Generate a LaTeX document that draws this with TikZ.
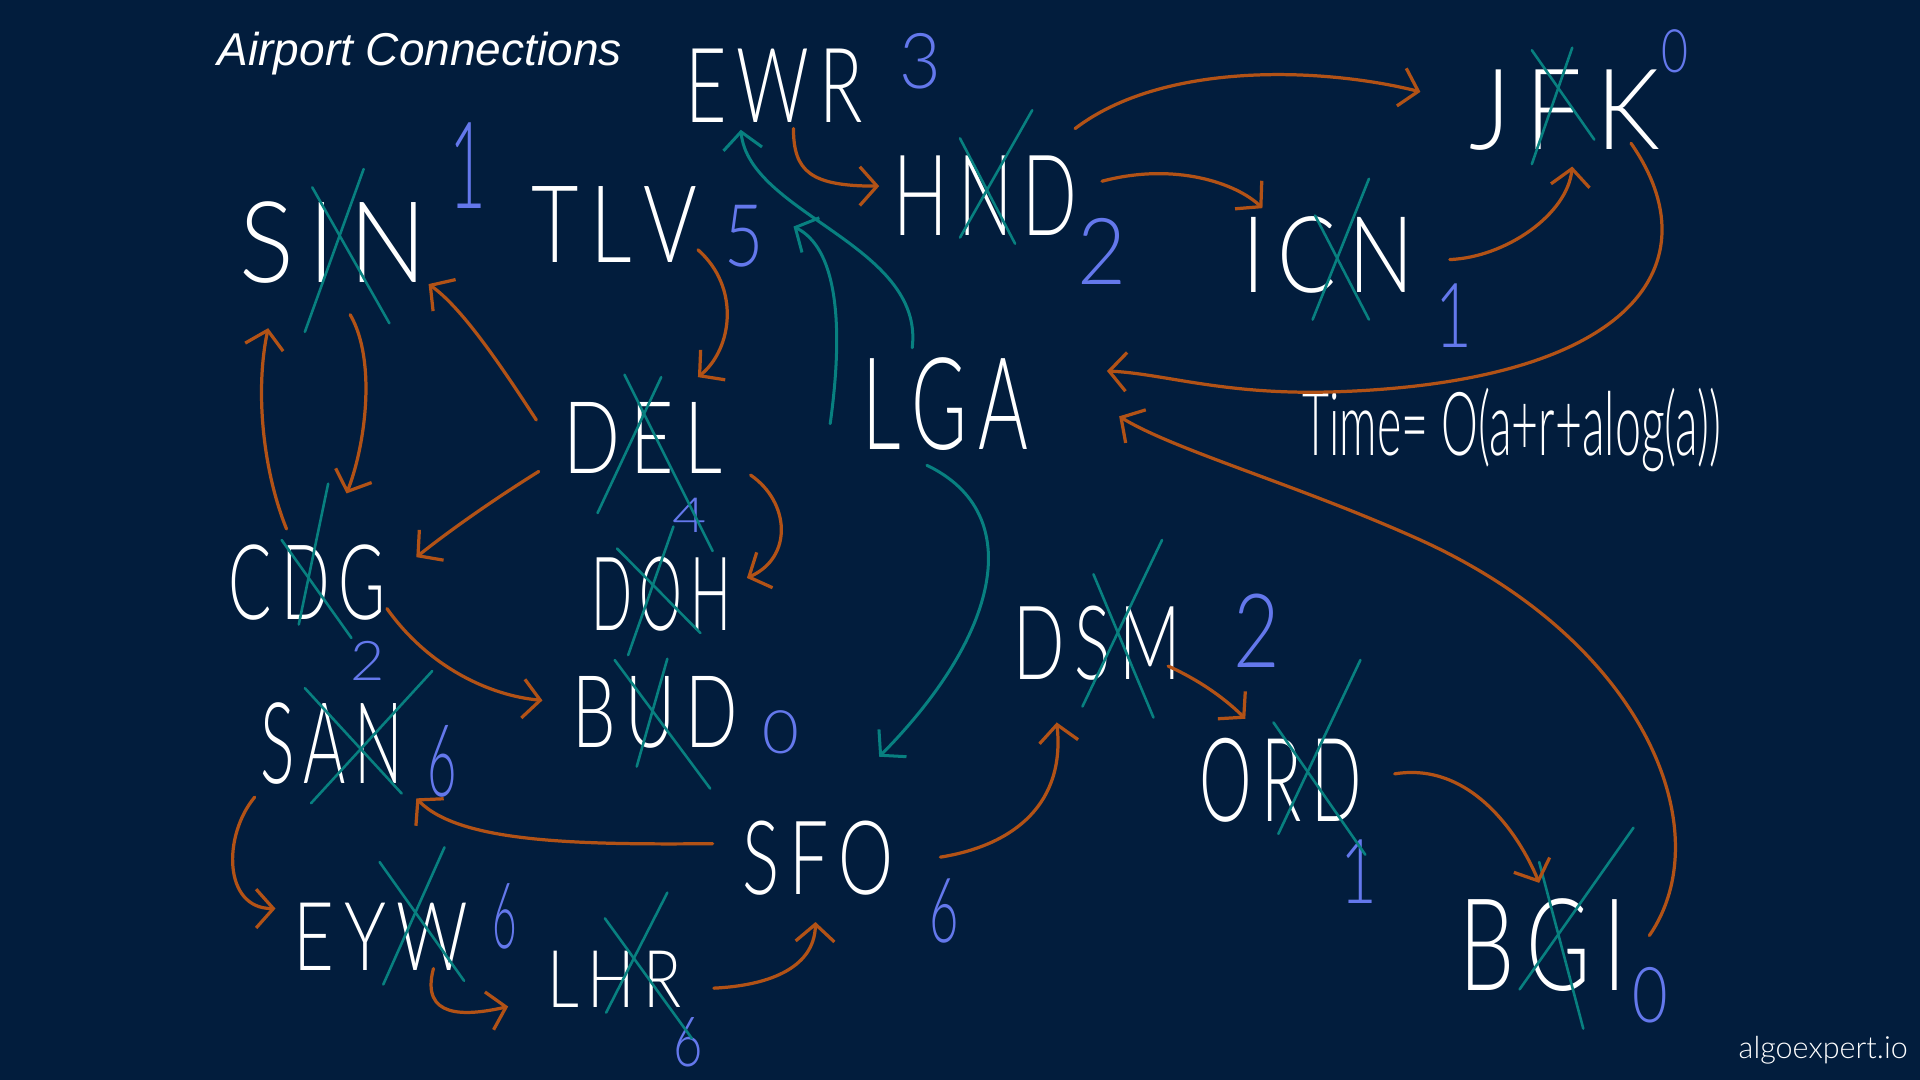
\documentclass[tikz,border=0pt]{standalone}
\usepackage{fontspec}
\usepackage{graphicx}
\usetikzlibrary{arrows.meta,calc}
\IfFontExistsTF{Lato Light}{\newfontfamily\hand{Lato Light}}{%
 \IfFontExistsTF{Fira Sans Light}{\newfontfamily\hand{Fira Sans Light}}{%
  \IfFontExistsTF{DejaVu Sans ExtraLight}{\newfontfamily\hand{DejaVu Sans ExtraLight}}{%
   \newfontfamily\hand{Liberation Sans}}}}
\newfontfamily\titlefont{Liberation Sans}
\definecolor{bg}{RGB}{2,29,61}
\definecolor{orng}{RGB}{178,82,22}
\definecolor{tl}{RGB}{8,128,128}
\definecolor{blu}{RGB}{100,120,236}
\newcommand\gp{\hspace{0.14em}}
\newcommand\code[3]{\resizebox{#1cm}{#2cm}{\hand #3}}
\newcommand\dg[3]{\resizebox{#1cm}{#2cm}{\hand #3}}
\newcommand\xcross[9]{%
  \draw[crossln] ($(#1)+(#2,#3)$) -- ($(#1)+(#4,#5)$);
  \draw[crossln] ($(#1)+(#6,#7)$) -- ($(#1)+(#8,#9)$);}
\begin{document}
\begin{tikzpicture}[x=0.01cm,y=-0.01cm,
  apt/.style={inner sep=0pt,text=white},
  num/.style={inner sep=0pt,text=blu},
  oar/.style={draw=orng,line width=0.75pt,line cap=round,-{Straight Barb[length=4pt,width=9pt]}},
  tar/.style={draw=tl,line width=0.7pt,line cap=round,-{Straight Barb[length=4pt,width=9pt]}},
  crossln/.style={draw=tl,line width=0.6pt,line cap=round}]
\fill[bg] (0,0) rectangle (1568,882);
\useasboundingbox (0,0) rectangle (1568,882);

% title and brand
\node[inner sep=0pt,anchor=west,text=white] (title) at (177,44) {\resizebox{3.3cm}{!}{\titlefont\itshape Airport Connections}};
\node[inner sep=0pt,text=white] (brand) at (1489,858) {\resizebox{1.38cm}{!}{\hand algoexpert.io}};
\node[inner sep=0pt,anchor=base west,text=white] (time) at (1063,372) {\resizebox{3.42cm}{0.55cm}{\hand Time= O(a+r+alog(a))}};

% airports
\node[apt] (sin) at (272,198) {\code{1.53}{0.66}{S\gp I\gp N}};
\node[apt] (tlv) at (502,183) {\code{1.35}{0.62}{T\gp L\gp V}};
\node[apt] (ewr) at (632,70) {\code{1.45}{0.6}{E\gp W\gp R}};
\node[apt] (hnd) at (805,160) {\code{1.5}{0.65}{H\gp N\gp D}};
\node[apt] (jfk) at (1278,90) {\code{1.55}{0.65}{J\gp F\gp K}};
\node[apt] (icn) at (1085,208) {\code{1.4}{0.62}{I\gp C\gp N}};
\node[apt] (lga) at (772,330) {\code{1.35}{0.75}{L\gp G\gp A}};
\node[apt] (del) at (525,358) {\code{1.3}{0.58}{D\gp E\gp L}};
\node[apt] (cog) at (251,476) {\code{1.28}{0.61}{C\gp D\gp G}};
\node[apt] (doh) at (540,485) {\code{1.14}{0.6}{D\gp O\gp H}};
\node[apt] (san) at (271,607) {\code{1.17}{0.66}{S\gp A\gp N}};
\node[apt] (bud) at (535,582) {\code{1.35}{0.58}{B\gp U\gp D}};
\node[apt] (sfo) at (668,701) {\code{1.23}{0.6}{S\gp F\gp O}};
\node[apt] (dsm) at (896,525) {\code{1.37}{0.6}{D\gp S\gp M}};
\node[apt] (ord) at (1046,637) {\code{1.32}{0.68}{O\gp R\gp D}};
\node[apt] (bgi) at (1260,772) {\code{1.36}{0.75}{B\gp G\gp I}};
\node[apt] (eyw) at (311,765) {\code{1.42}{0.55}{E\gp Y\gp W}};
\node[apt] (lhr) at (502,800) {\code{1.1}{0.46}{L\gp H\gp R}};

% numbers
\node[num] (nsin) at (382,135) {\dg{0.3}{0.7}{1}};
\node[num] (newr) at (752,50) {\dg{0.34}{0.45}{3}};
\node[num] (ntlv) at (608,193) {\dg{0.32}{0.5}{5}};
\node[num] (nhnd) at (900,205) {\dg{0.4}{0.54}{2}};
\node[num] (njfk) at (1368,42) {\dg{0.22}{0.35}{0}};
\node[num] (nicn) at (1187,258) {\dg{0.3}{0.52}{1}};
\node[num] (ndel) at (563,421) {\dg{0.28}{0.28}{4}};
\node[num] (ncog) at (300,540) {\dg{0.28}{0.32}{2}};
\node[num] (nbud) at (638,598) {\dg{0.3}{0.35}{0}};
\node[num] (nsan) at (361,622) {\dg{0.24}{0.58}{6}};
\node[num] (ndsm) at (1026,515) {\dg{0.38}{0.6}{2}};
\node[num] (nord) at (1110,712) {\dg{0.3}{0.52}{1}};
\node[num] (nsfo) at (771,744) {\dg{0.24}{0.52}{6}};
\node[num] (neyw) at (412,748) {\dg{0.2}{0.53}{6}};
\node[num] (nlhr) at (562,851) {\dg{0.24}{0.4}{6}};
\node[num] (nbgi) at (1348,813) {\dg{0.29}{0.45}{0}};

% cross-outs
\xcross{sin}{-17}{-45}{46}{66}{25}{-60}{-23}{73}
\xcross{hnd}{-21}{-47}{24}{39}{38}{-70}{-21}{34}
\xcross{jfk}{-27}{-49}{24}{24}{6}{-51}{-27}{44}
\xcross{icn}{-11}{-32}{33}{53}{33}{-62}{-13}{53}
\xcross{del}{-15}{-52}{57}{92}{15}{-50}{-37}{61}
\xcross{cog}{-21}{-35}{36}{45}{17}{-81}{-7}{34}
\xcross{doh}{-36}{-37}{32}{32}{10}{-55}{-27}{50}
\xcross{bud}{-33}{-43}{45}{62}{10}{-44}{-15}{44}
\xcross{san}{-22}{-45}{57}{41}{82}{-59}{-17}{49}
\xcross{eyw}{-1}{-61}{68}{36}{52}{-73}{2}{39}
\xcross{lhr}{-8}{-50}{63}{48}{43}{-71}{-7}{27}
\xcross{dsm}{-3}{-56}{46}{61}{53}{-84}{-12}{52}
\xcross{ord}{-6}{-47}{69}{61}{65}{-98}{-2}{44}
\xcross{bgi}{-3}{-68}{33}{68}{74}{-96}{-19}{36}

% orange connectors
\draw[oar] ($(ewr)+(16,35)$) .. controls (648,140) and (662,152) .. ($(hnd)+(-87,-8)$);
\draw[oar] ($(hnd)+(73,-55)$) .. controls (950,50) and (1080,55) .. ($(jfk)+(-118,-15)$);
\draw[oar] ($(hnd)+(95,-12)$) .. controls (960,132) and (1010,150) .. ($(icn)+(-54,-38)$);
\draw[oar] ($(icn)+(99,4)$) .. controls (1230,210) and (1280,175) .. ($(jfk)+(6,46)$);
\draw[oar] ($(jfk)+(54,27)$) .. controls (1400,215) and (1335,312) .. (1090,320) .. controls (1000,323) and (950,305) .. ($(lga)+(132,-27)$);
\draw[oar] ($(bgi)+(87,-8)$) .. controls (1405,680) and (1345,525) .. (1160,441) .. controls (1060,396) and (960,368) .. ($(lga)+(142,10)$);
\draw[oar] ($(tlv)+(68,21)$) .. controls (605,235) and (598,285) .. ($(del)+(45,-50)$);
\draw[oar] ($(del)+(-87,-15)$) .. controls (410,300) and (378,252) .. ($(sin)+(78,34)$);
\draw[oar] ($(del)+(-85,27)$) .. controls (400,410) and (365,435) .. ($(cog)+(89,-21)$);
\draw[oar] ($(del)+(88,30)$) .. controls (645,410) and (648,455) .. ($(doh)+(70,-13)$);
\draw[oar] ($(sin)+(14,59)$) .. controls (308,295) and (298,365) .. ($(cog)+(32,-73)$);
\draw[oar] ($(cog)+(-17,-44)$) .. controls (215,385) and (208,320) .. ($(sin)+(-53,70)$);
\draw[oar] ($(cog)+(65,21)$) .. controls (350,545) and (400,568) .. ($(bud)+(-92,-10)$);
\draw[oar] ($(sfo)+(-86,-12)$) .. controls (470,690) and (375,688) .. ($(san)+(69,45)$);
\draw[oar] ($(san)+(-63,44)$) .. controls (182,682) and (182,742) .. ($(eyw)+(-86,-23)$);
\draw[oar] ($(eyw)+(43,26)$) .. controls (343,832) and (380,830) .. ($(lhr)+(-87,22)$);
\draw[oar] ($(lhr)+(81,7)$) .. controls (625,805) and (665,792) .. ($(sfo)+(-2,52)$);
\draw[oar] ($(sfo)+(100,-1)$) .. controls (830,690) and (870,655) .. ($(dsm)+(-33,65)$);
\draw[oar] ($(dsm)+(58,19)$) .. controls (985,558) and (1005,575) .. ($(ord)+(-29,-50)$);
\draw[oar] ($(ord)+(93,-5)$) .. controls (1200,622) and (1240,680) .. ($(bgi)+(-3,-51)$);

% teal connectors
\draw[tar] ($(lga)+(-27,-46)$) .. controls (755,200) and (612,175) .. ($(ewr)+(-27,36)$);
\draw[tar] ($(lga)+(-94,16)$) .. controls (690,260) and (682,202) .. ($(tlv)+(146,2)$);
\draw[tar] ($(lga)+(-15,50)$) .. controls (840,420) and (815,520) .. ($(bud)+(183,36)$);
\end{tikzpicture}
\end{document}
